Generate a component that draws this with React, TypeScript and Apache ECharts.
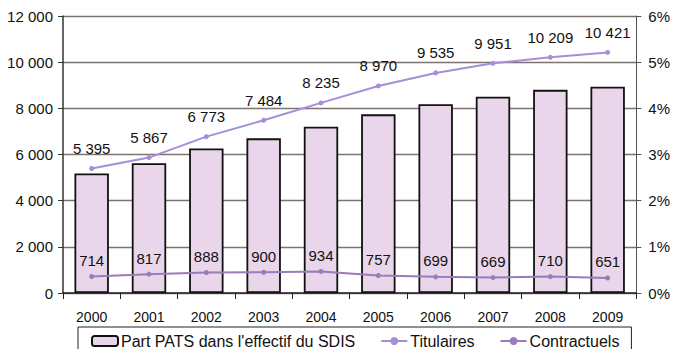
import React, { useEffect, useRef } from "react";
import * as echarts from "echarts";

const years = ["2000", "2001", "2002", "2003", "2004", "2005", "2006", "2007", "2008", "2009"];
const partPats = [2.59, 2.81, 3.13, 3.35, 3.6, 3.87, 4.09, 4.25, 4.4, 4.47];
const titulaires = [5395, 5867, 6773, 7484, 8235, 8970, 9535, 9951, 10209, 10421];
const contractuels = [714, 817, 888, 900, 934, 757, 699, 669, 710, 651];

const fmt = (v: number) => {
  const s = String(Math.round(v));
  return s.replace(/\B(?=(\d{3})+(?!\d))/g, " ");
};

const FONT = "Arial";

export default function App() {
  const ref = useRef<HTMLDivElement>(null);
  useEffect(() => {
    if (!ref.current) return;
    const chart = echarts.init(ref.current, undefined, { renderer: "svg" });
    chart.setOption({
      animation: false,
      backgroundColor: "#ffffff",
      textStyle: { fontFamily: FONT },
      grid: { left: 63, right: 32, top: 16, bottom: 56 },
      legend: {
        left: 78,
        top: 327,
        itemGap: 25,
        itemWidth: 26,
        itemHeight: 10,
        borderColor: "#222",
        borderWidth: 1,
        padding: [6, 12, 30, 13],
        textStyle: { fontFamily: FONT, fontSize: 16, color: "#111", padding: [0, 0, 0, -2] },
        data: ["Part PATS dans l'effectif du SDIS", "Titulaires", "Contractuels"],
      },
      xAxis: {
        type: "category",
        data: years,
        axisLine: { lineStyle: { color: "#222", width: 1.5 } },
        axisTick: { show: true, alignWithLabel: false, length: 6, lineStyle: { color: "#222" } },
        axisLabel: { fontFamily: FONT, fontSize: 14, color: "#111", margin: 17 },
      },
      yAxis: [
        {
          type: "value",
          min: 0,
          max: 12000,
          interval: 2000,
          axisLine: { show: true, lineStyle: { color: "#333", width: 1.5 } },
          axisTick: { show: true, length: 5, lineStyle: { color: "#333" } },
          axisLabel: { fontFamily: FONT, fontSize: 15, color: "#111", margin: 10, formatter: (v: number) => fmt(v) },
          splitLine: { show: true, lineStyle: { color: "#7d7470", width: 1.3 } },
        },
        {
          type: "value",
          min: 0,
          max: 6,
          interval: 1,
          position: "right",
          axisLine: { show: true, lineStyle: { color: "#555", width: 1 } },
          axisTick: { show: true, length: 5, lineStyle: { color: "#555" } },
          axisLabel: { fontFamily: FONT, fontSize: 15, color: "#111", margin: 12, formatter: (v: number) => v + "%" },
          splitLine: { show: false },
        },
      ],
      series: [
        {
          name: "Part PATS dans l'effectif du SDIS",
          type: "bar",
          yAxisIndex: 1,
          data: partPats,
          barWidth: "60%",
          itemStyle: { color: "#e9d6eb", borderColor: "#111", borderWidth: 1.8 },
          z: 2,
        },
        {
          name: "Titulaires",
          type: "line",
          yAxisIndex: 0,
          data: titulaires,
          symbol: "circle",
          symbolSize: 5,
          lineStyle: { color: "#a68ed8", width: 2 },
          itemStyle: { color: "#a68ed8" },
          label: {
            show: true,
            position: "top",
            distance: 10,
            fontFamily: FONT,
            fontSize: 15,
            color: "#111",
            formatter: (p: any) => fmt(p.value),
          },
          z: 5,
        },
        {
          name: "Contractuels",
          type: "line",
          yAxisIndex: 0,
          data: contractuels,
          symbol: "circle",
          symbolSize: 5,
          lineStyle: { color: "#9a7cb6", width: 2 },
          itemStyle: { color: "#9a7cb6" },
          label: {
            show: true,
            position: "top",
            distance: 6,
            fontFamily: FONT,
            fontSize: 15,
            color: "#111",
            formatter: (p: any) => fmt(p.value),
          },
          z: 5,
        },
      ],
    });
    return () => chart.dispose();
  }, []);
  return (
    <div
      ref={ref}
      style={{ position: "fixed", left: 0, top: 0, width: 673, height: 349, background: "#fff" }}
    />
  );
}
